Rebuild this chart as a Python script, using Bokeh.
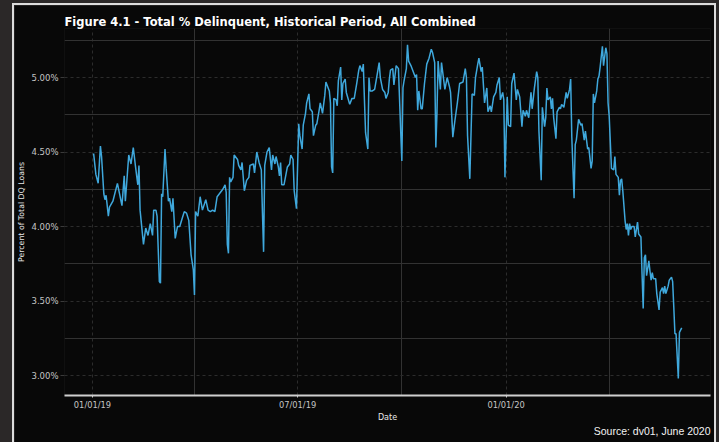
import pandas as pd
from bokeh.plotting import figure
from bokeh.models import (Range1d, FixedTicker, PrintfTickFormatter,
                          DatetimeTickFormatter, Title, ColumnDataSource)
from bokeh.layouts import column
from bokeh.embed import file_html
from bokeh.resources import INLINE

# Daily total % delinquent, all combined (day offsets from the start date)
start_date = "2019-01-01"
day_index = [
    1, 3, 5, 7, 8, 10, 11, 12, 14, 15, 18, 22, 26, 28, 29, 32, 34, 36, 38, 40,
    41, 42, 45, 47, 49, 51, 53, 54, 56, 57, 59, 60, 61, 62, 64, 65, 67, 68, 70, 71,
    73, 75, 77, 79, 81, 83, 85, 87, 89, 90, 91, 93, 95, 97, 100, 102, 104, 106, 108, 110,
    112, 115, 117, 118, 119, 120, 121, 122, 124, 125, 128, 129, 131, 132, 134, 136, 138, 139, 142, 143,
    145, 147, 149, 150, 151, 152, 154, 156, 158, 159, 161, 162, 164, 165, 166, 167, 169, 172, 174, 175,
    177, 178, 180, 182, 183, 185, 186, 188, 189, 191, 192, 194, 195, 197, 198, 200, 201, 203, 205, 206,
    209, 210, 211, 212, 213, 215, 216, 217, 219, 220, 221, 223, 224, 227, 229, 231, 233, 235, 236, 238,
    239, 240, 241, 243, 244, 245, 247, 249, 251, 253, 254, 256, 258, 259, 261, 262, 263, 265, 266, 268,
    269, 270, 272, 273, 274, 275, 277, 278, 279, 281, 283, 285, 286, 287, 288, 290, 291, 293, 295, 297,
    299, 300, 302, 303, 304, 305, 307, 308, 310, 311, 313, 315, 316, 318, 320, 322, 324, 327, 329, 330,
    331, 333, 335, 337, 338, 340, 341, 343, 344, 346, 348, 349, 351, 352, 354, 356, 357, 359, 360, 362,
    363, 364, 366, 367, 369, 370, 372, 374, 375, 377, 379, 380, 382, 383, 385, 387, 388, 390, 392, 393,
    394, 396, 397, 399, 400, 401, 402, 404, 405, 406, 407, 409, 410, 412, 413, 414, 416, 418, 419, 421,
    422, 423, 425, 426, 427, 429, 431, 432, 434, 435, 437, 438, 440, 441, 442, 443, 445, 446, 447, 448,
    450, 451, 453, 454, 455, 456, 458, 460, 461, 462, 464, 465, 466, 467, 468, 470, 471, 472, 473, 474,
    475, 476, 478, 479, 481, 482, 484, 485, 486, 487, 488, 489, 491, 492, 493, 494, 495, 497, 498, 500,
    501, 503, 504, 505, 506, 508, 509, 511, 512, 513, 514, 515, 516, 517, 518, 520,
]
pct_delinquent = [
    4.49, 4.35, 4.29, 4.54, 4.47, 4.22, 4.18, 4.21, 4.07, 4.13, 4.17, 4.29, 4.14, 4.34, 4.17, 4.48, 4.42, 4.53, 4.40, 4.28,
    4.41, 4.11, 3.88, 3.99, 3.94, 4.02, 3.94, 4.11, 4.11, 4.07, 3.63, 3.62, 4.22, 4.20, 4.52, 4.39, 4.17, 4.19, 4.10, 4.19,
    3.92, 4.00, 4.00, 4.05, 4.10, 4.09, 4.04, 3.81, 3.71, 3.54, 4.10, 4.07, 4.20, 4.11, 4.18, 4.11, 4.10, 4.11, 4.10, 4.20,
    4.22, 4.25, 4.28, 4.23, 3.88, 3.82, 4.33, 4.30, 4.33, 4.48, 4.45, 4.41, 4.38, 4.43, 4.24, 4.31, 4.33, 4.41, 4.42, 4.36,
    4.50, 4.43, 4.38, 4.09, 3.83, 4.41, 4.50, 4.53, 4.38, 4.48, 4.42, 4.47, 4.40, 4.34, 4.43, 4.28, 4.28, 4.40, 4.42, 4.48,
    4.45, 4.24, 4.12, 4.69, 4.61, 4.52, 4.68, 4.76, 4.83, 4.89, 4.79, 4.77, 4.61, 4.68, 4.69, 4.78, 4.83, 4.76, 4.88, 4.97,
    4.91, 4.83, 4.40, 4.36, 4.86, 4.85, 4.81, 4.98, 5.07, 4.85, 4.96, 4.99, 4.90, 4.82, 4.86, 4.86, 4.95, 5.05, 5.08, 5.04,
    5.09, 4.85, 4.63, 4.52, 5.00, 4.91, 4.91, 4.92, 5.01, 5.10, 5.00, 4.92, 4.90, 4.86, 4.90, 4.99, 5.05, 5.06, 4.95, 5.08,
    5.07, 5.06, 4.64, 4.44, 4.93, 4.98, 5.06, 5.22, 5.11, 5.08, 5.04, 5.00, 5.02, 4.78, 4.91, 4.79, 4.79, 4.96, 5.09, 5.13,
    5.19, 5.17, 5.10, 4.53, 4.76, 5.11, 4.92, 5.10, 4.98, 4.92, 5.00, 4.94, 4.90, 4.60, 4.72, 4.83, 4.96, 4.97, 5.06, 5.00,
    4.61, 4.32, 4.89, 4.88, 5.00, 5.09, 5.13, 5.04, 5.07, 4.83, 4.93, 4.77, 4.81, 4.77, 4.87, 4.90, 4.95, 5.00, 4.85, 4.90,
    4.85, 4.33, 4.87, 4.68, 4.67, 4.96, 5.03, 4.85, 4.92, 4.87, 4.67, 4.78, 4.74, 4.78, 4.73, 4.90, 4.79, 4.93, 5.04, 5.00,
    4.64, 4.31, 4.80, 4.67, 4.73, 4.93, 4.85, 4.87, 4.79, 4.86, 4.73, 4.59, 4.77, 4.80, 4.79, 4.82, 4.80, 4.90, 4.86, 4.92,
    4.99, 4.60, 4.19, 4.55, 4.58, 4.72, 4.68, 4.69, 4.58, 4.64, 4.52, 4.53, 4.39, 4.44, 4.89, 4.83, 4.91, 4.99, 5.01, 5.07,
    5.21, 5.08, 5.20, 5.16, 4.83, 4.74, 4.39, 4.38, 4.47, 4.35, 4.33, 4.21, 4.31, 4.32, 4.24, 4.04, 3.98, 4.02, 3.94, 4.02,
    3.98, 4.00, 4.00, 3.93, 4.03, 3.95, 3.93, 3.68, 3.45, 3.79, 3.81, 3.67, 3.77, 3.70, 3.64, 3.69, 3.65, 3.65, 3.55, 3.44,
    3.56, 3.59, 3.55, 3.60, 3.55, 3.60, 3.64, 3.66, 3.63, 3.46, 3.28, 3.28, 3.13, 2.98, 3.29, 3.32,
]

y_ticks = [3.0, 3.5, 4.0, 4.5, 5.0]
y_minor_ticks = [3.25, 3.75, 4.25, 4.75, 5.25]
x_tick_dates = ["2019-01-01", "2019-07-01", "2020-01-01"]
x_minor_dates = ["2019-04-01", "2019-10-01", "2020-04-01"]

title_text = "Figure 4.1 - Total % Delinquent, Historical Period, All Combined"
source_text = "Source: dv01, June 2020"


def to_ms(d):
    return pd.Timestamp(d).value / 1e6


origin = pd.Timestamp(start_date)
dates = origin + pd.to_timedelta(day_index, unit="D")
src = ColumnDataSource(dict(date=dates, pct=pct_delinquent))

BG = "#080808"

p = figure(
    width=700, height=437,
    title=None,
    x_axis_type="datetime",
    output_backend="svg", toolbar_location=None,
    x_range=Range1d(origin - pd.Timedelta(hours=24.7 * 24), origin + pd.Timedelta(hours=545.4 * 24)),
    y_range=Range1d(2.866, 5.329),
    background_fill_color=BG, border_fill_color=BG,
    outline_line_color=None,
    min_border_left=49, min_border_right=4, min_border_top=23, min_border_bottom=47,
)

p.line("date", "pct", source=src, line_color="#3fa8dc", line_width=1.5)

# panels above the frame: the title, then a thin blank gap next to the frame
p.add_layout(Title(text=title_text, text_color="#ffffff", text_font="DejaVu Sans",
                   text_font_size="11.5px", text_font_style="bold",
                   align="left", vertical_align="bottom", standoff=0), "above")
p.add_layout(Title(text=".", text_font_size="4px", text_alpha=0, standoff=0), "above")

# x axis
p.xaxis.ticker = FixedTicker(ticks=[to_ms(d) for d in x_tick_dates],
                             minor_ticks=[to_ms(d) for d in x_minor_dates])
fmt = "%m/%d/%y"
p.xaxis.formatter = DatetimeTickFormatter(
    microseconds=fmt, milliseconds=fmt, seconds=fmt, minsec=fmt, minutes=fmt,
    hourmin=fmt, hours=fmt, days=fmt, months=fmt, years=fmt,
)
p.xaxis.axis_line_color = "#cfcfcf"
p.xaxis.axis_line_width = 2
p.xaxis.major_tick_line_color = "#cfcfcf"
p.xaxis.major_tick_out = 2
p.xaxis.major_tick_in = 0
p.xaxis.minor_tick_line_color = None
p.xaxis.major_label_text_color = "#c4c4c4"
p.xaxis.major_label_text_font = "DejaVu Sans"
p.xaxis.major_label_text_font_size = "8.3px"
p.xaxis.major_label_standoff = 0
p.xaxis.axis_label = "Date"
p.xaxis.axis_label_text_color = "#e8e8e8"
p.xaxis.axis_label_text_font = "DejaVu Sans"
p.xaxis.axis_label_text_font_size = "8px"
p.xaxis.axis_label_text_font_style = "normal"
p.xaxis.axis_label_standoff = 0

# y axis
p.yaxis.ticker = FixedTicker(ticks=y_ticks, minor_ticks=y_minor_ticks)
p.yaxis.formatter = PrintfTickFormatter(format="%.2f%%")
p.yaxis.axis_line_color = None
p.yaxis.major_tick_line_color = "#3a3a3a"
p.yaxis.major_tick_out = 4
p.yaxis.major_tick_in = 0
p.yaxis.minor_tick_line_color = None
p.yaxis.major_label_text_color = "#c4c4c4"
p.yaxis.major_label_text_font = "DejaVu Sans"
p.yaxis.major_label_text_font_size = "8.5px"
p.yaxis.major_label_standoff = 2
p.yaxis.axis_label = "Percent of Total DQ Loans"
p.yaxis.axis_label_text_color = "#e8e8e8"
p.yaxis.axis_label_text_font = "DejaVu Sans"
p.yaxis.axis_label_text_font_size = "7.8px"
p.yaxis.axis_label_text_font_style = "normal"
p.yaxis.axis_label_standoff = 2

# grids: dashed at labelled ticks, solid in between
for g in (p.xgrid, p.ygrid):
    g.grid_line_color = "#2c2c2c"
    g.grid_line_dash = "3 3"
    g.grid_line_width = 1
    g.minor_grid_line_color = "#323232"
    g.minor_grid_line_width = 1

# source note below the axis, right-aligned with the frame
p.add_layout(Title(text=source_text, align="right", vertical_align="top",
                   text_color="#f2f2f2", text_font="Liberation Sans",
                   text_font_size="10.5px", text_font_style="normal",
                   text_line_height=1.0, standoff=0), "below")

p.styles = {"box-shadow": "0 0 0 2px #dcdcdc"}

page = column(p, styles={"background-color": "#2b2828",
                         "padding": "5px 5px 0px 14px"})

open("out.html", "w").write(file_html(page, INLINE))
